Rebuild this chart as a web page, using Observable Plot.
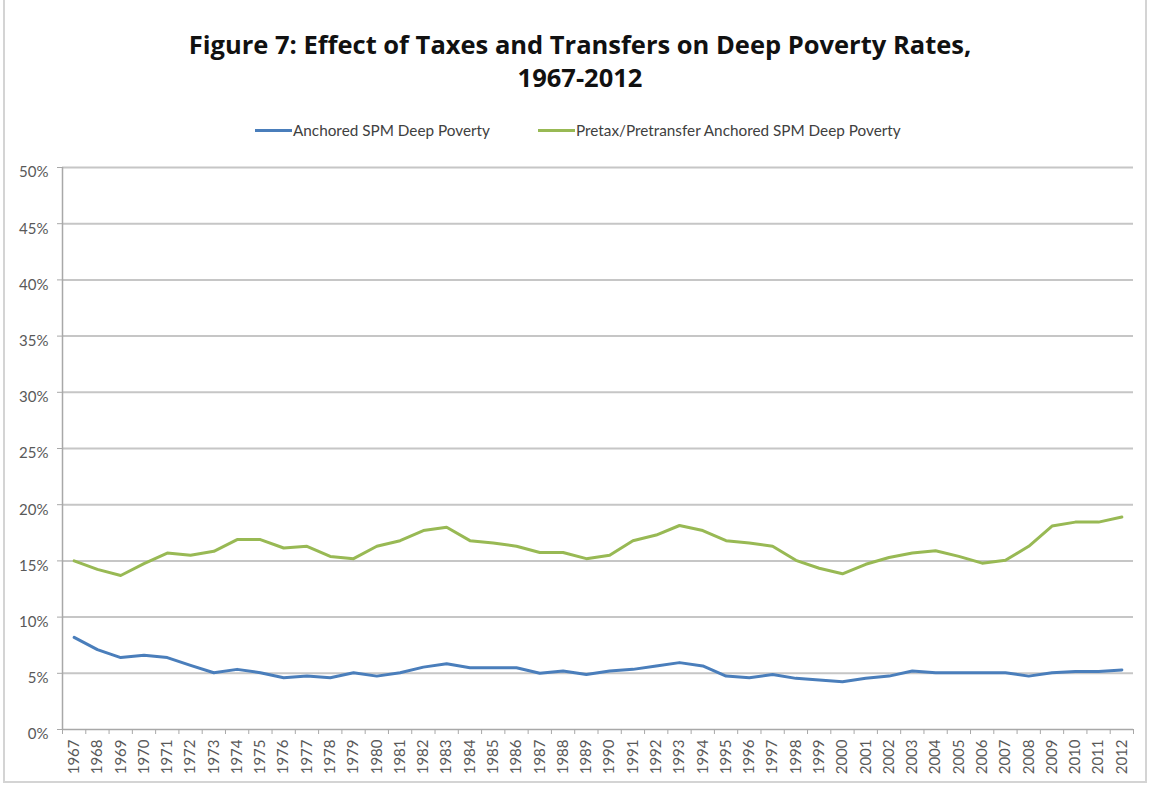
<!DOCTYPE html>
<html>
<head>
<meta charset="utf-8">
<script src="https://cdn.jsdelivr.net/npm/d3@7"></script>
<script src="https://cdn.jsdelivr.net/npm/@observablehq/plot@0.6"></script>
<style>
  body { margin: 0; background: #fff; font-family: Lato, "Open Sans", sans-serif; }
  #page { position: relative; width: 1151px; height: 786px; overflow: hidden; }
  #border { position: absolute; left: 3px; top: -2px; width: 1144px; height: 785px; border: 2px solid #d4d4d4; box-sizing: border-box; }
  #title { position: absolute; left: 0; top: 28px; width: 1160px; text-align: center; font-family: "Open Sans", Lato, sans-serif; font-weight: bold; font-size: 25.5px; line-height: 33px; color: #111; }
  .leg { position: absolute; top: 120px; height: 20px; display: flex; align-items: center; font-size: 15.3px; color: #404040; white-space: nowrap; }
  .sw { display: inline-block; width: 37px; height: 3px; margin-right: 1px; }
  #chart { position: absolute; left: 0; top: 150px; }
</style>
</head>
<body>
<div id="page">
  <div id="border"></div>
  <div id="title">Figure 7: Effect of Taxes and Transfers on Deep Poverty Rates,<br>1967-2012</div>
  <div class="leg" style="left:255px"><span class="sw" id="sw0"></span><span id="lg0"></span></div>
  <div class="leg" style="left:538px"><span class="sw" id="sw1"></span><span id="lg1"></span></div>
  <div id="chart"></div>
</div>
<script>
const years = [1967,1968,1969,1970,1971,1972,1973,1974,1975,1976,1977,1978,1979,1980,1981,1982,1983,1984,1985,1986,1987,1988,1989,1990,1991,1992,1993,1994,1995,1996,1997,1998,1999,2000,2001,2002,2003,2004,2005,2006,2007,2008,2009,2010,2011,2012];
const seriesNames = ["Anchored SPM Deep Poverty", "Pretax/Pretransfer Anchored SPM Deep Poverty"];
const anchored = [8.2,7.1,6.4,6.6,6.4,5.7,5.05,5.35,5.05,4.6,
                  4.75,4.6,5.05,4.75,5.05,5.55,5.85,5.5,5.5,5.5,
                  5.0,5.2,4.9,5.2,5.35,5.65,5.95,5.65,4.75,4.6,
                  4.9,4.55,4.4,4.25,4.55,4.75,5.2,5.05,5.05,5.05,
                  5.05,4.75,5.05,5.15,5.15,5.3];
const pretax = [15.0,14.25,13.7,14.75,15.7,15.5,15.85,16.9,16.9,16.15,
                16.3,15.4,15.2,16.3,16.8,17.7,18.0,16.8,16.6,16.3,
                15.75,15.75,15.2,15.5,16.8,17.3,18.15,17.7,16.8,16.6,
                16.3,15.05,14.35,13.85,14.7,15.3,15.7,15.9,15.4,14.8,
                15.05,16.3,18.1,18.45,18.45,18.9];
const yTicks = [0,5,10,15,20,25,30,35,40,45,50];
const colors = ["#4a7ebb", "#98b954"];

const rows0 = years.map((y, i) => ({year: y, value: anchored[i]}));
const rows1 = years.map((y, i) => ({year: y, value: pretax[i]}));
const boundaries = [years[0] - 0.5, ...years.map(y => y + 0.5)];

document.getElementById("sw0").style.background = colors[0];
document.getElementById("sw1").style.background = colors[1];
document.getElementById("lg0").textContent = seriesNames[0];
document.getElementById("lg1").textContent = seriesNames[1];

const axisColor = "#595959";
const chart = Plot.plot({
  width: 1151,
  height: 632,
  marginTop: 17,
  marginBottom: 53,
  marginLeft: 62,
  marginRight: 18,
  style: {fontFamily: "Lato, 'Open Sans', sans-serif", background: "transparent"},
  x: {type: "linear", domain: [years[0] - 0.5, years[years.length - 1] + 0.5]},
  y: {domain: [0, 50]},
  marks: [
    Plot.ruleY(yTicks.filter(d => d > 0), {stroke: "#c6c6c6", strokeWidth: 2}),
    Plot.ruleY([0], {stroke: "#a8a8a8", strokeWidth: 1.5}),
    Plot.ruleX([years[0] - 0.5], {stroke: "#a8a8a8", strokeWidth: 1.5}),
    Plot.axisY({ticks: yTicks, tickFormat: () => "", tickSize: 5, stroke: "#a8a8a8", label: null}),
    Plot.axisY({ticks: yTicks, tickFormat: d => d + "%", tickSize: 0, tickPadding: 14, dy: 5, fontSize: 15, fill: axisColor, label: null}),
    Plot.axisX({ticks: boundaries, tickFormat: () => "", tickSize: 5, stroke: "#a8a8a8", label: null}),
    Plot.axisX({ticks: years, tickFormat: d => String(d), tickSize: 0, tickPadding: 10, tickRotate: -90, fontSize: 15, fill: axisColor, label: null}),
    Plot.line(rows1, {x: "year", y: "value", stroke: colors[1], strokeWidth: 3}),
    Plot.line(rows0, {x: "year", y: "value", stroke: colors[0], strokeWidth: 3})
  ]
});
document.getElementById("chart").appendChild(chart);
</script>
</body>
</html>
